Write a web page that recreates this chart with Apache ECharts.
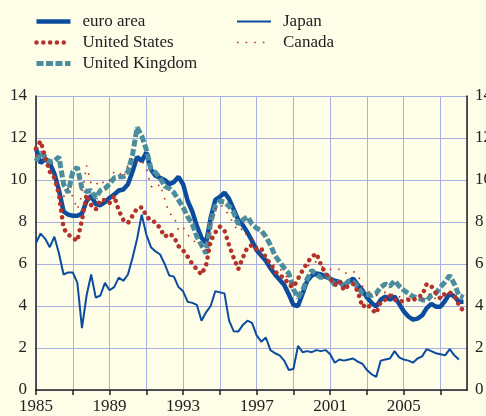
<!DOCTYPE html>
<html>
<head>
<meta charset="utf-8">
<script src="https://cdn.jsdelivr.net/npm/echarts@6/dist/echarts.min.js"></script>
<style>
  html, body { margin: 0; padding: 0; background: #fefde8; }
  #chart { width: 486px; height: 416px; }
</style>
</head>
<body>
<div id="chart"></div>
<script>
// quarterly time points, 1985.00 ... 2008.25
var quarters = [];
for (var i = 0; i <= 93; i++) quarters.push(1985 + i * 0.25);

var euroArea = [
  11.5, 10.8, 11.0, 10.8,   // 1985
  10.3, 9.5, 8.5, 8.35,     // 1986
  8.3, 8.3, 8.4, 9.0,       // 1987
  9.25, 8.85, 8.8, 8.95,    // 1988
  9.15, 9.3, 9.5, 9.55,     // 1989
  9.8, 10.4, 11.1, 10.9,    // 1990
  11.3, 10.5, 10.2, 10.1,   // 1991
  10.0, 9.8, 9.9, 10.15,    // 1992
  9.8, 9.0, 8.5, 7.8,       // 1993
  7.25, 7.0, 8.2, 9.05,     // 1994
  9.2, 9.4, 9.1, 8.6,       // 1995
  8.1, 7.85, 7.5, 7.1,      // 1996
  6.65, 6.4, 6.15, 5.8,     // 1997
  5.5, 5.25, 5.0, 4.55,     // 1998
  4.05, 4.0, 4.6, 5.2,      // 1999
  5.45, 5.55, 5.5, 5.4,     // 2000
  5.3, 5.2, 5.15, 4.95,     // 2001
  5.15, 5.3, 5.0, 4.75,     // 2002
  4.4, 4.15, 3.97, 4.3,     // 2003
  4.45, 4.3, 4.45, 4.1,     // 2004
  3.75, 3.5, 3.35, 3.4,     // 2005
  3.55, 3.9, 4.1, 3.97,     // 2006
  3.97, 4.25, 4.6, 4.45,    // 2007
  4.2, 4.2                  // 2008
];

var unitedStates = [
  11.5, 11.85, 11.1, 10.4,
  10.1, 9.3, 7.7, 7.4,
  7.25, 7.1, 8.1, 9.3,
  8.8, 8.6, 9.05, 9.05,
  8.9, 9.25, 8.55, 8.1,
  7.95, 8.3, 8.65, 8.7,
  8.3, 8.05, 8.0, 7.7,
  7.3, 7.45, 7.3, 6.85,
  6.65, 6.35, 6.0, 5.75,
  5.5, 5.95, 7.1, 7.5,
  7.78, 7.6, 6.9, 6.3,
  5.75, 6.3, 6.8, 6.9,
  6.7, 6.75, 6.3, 6.0,
  5.65, 5.45, 5.35, 5.0,
  4.9, 5.3, 5.7, 6.05,
  6.35, 6.5, 5.95, 5.55,
  5.3, 5.0, 5.2, 4.75,
  5.0, 5.05, 4.7, 3.95,
  4.1, 3.85, 3.65, 4.2,
  4.3, 4.5, 4.3, 4.2,
  4.25, 4.3, 4.25, 4.45,
  4.5, 5.05, 4.95, 4.6,
  4.35, 4.6, 4.65, 4.5,
  4.05, 3.75
];

var unitedKingdom = [
  10.9, 11.3, 11.1, 10.85,
  10.9, 11.1, 9.8, 9.4,
  10.4, 10.6, 9.6, 9.45,
  9.5, 9.15, 9.5, 9.6,
  9.8, 10.1, 10.15, 10.15,
  10.4, 11.2, 12.5, 12.1,
  11.45, 10.55, 10.35, 10.1,
  9.7, 9.6, 9.4, 9.05,
  8.7, 8.25, 7.9, 7.3,
  6.9, 6.5, 8.0, 8.75,
  9.0, 8.95, 8.75, 8.45,
  7.9, 8.1, 8.25, 7.9,
  7.7, 7.6, 7.3, 6.9,
  6.4, 6.1, 5.8, 5.55,
  4.8, 4.4, 4.75, 5.3,
  5.7, 5.5, 5.35, 5.5,
  5.3, 5.0, 5.15, 4.95,
  5.2, 5.15, 4.9, 4.6,
  4.55, 4.5, 4.6, 4.9,
  5.05, 4.95, 5.2, 4.95,
  4.75, 4.6, 4.45, 4.4,
  4.3, 4.25, 4.5, 4.6,
  4.9, 5.15, 5.45, 5.05,
  4.5, 4.4
];

var japan = [
  7.0, 7.45, 7.2, 6.8,
  7.3, 6.5, 5.5, 5.6,
  5.6, 5.1, 2.95, 4.5,
  5.5, 4.4, 4.5, 5.1,
  4.75, 4.9, 5.35, 5.2,
  5.5, 6.3, 7.2, 8.35,
  7.4, 6.8, 6.6, 6.45,
  6.0, 5.45, 5.4, 4.9,
  4.7, 4.2, 4.15, 4.05,
  3.3, 3.7, 4.0, 4.7,
  4.65, 4.6, 3.3, 2.8,
  2.78, 3.1, 3.3, 3.2,
  2.6, 2.3, 2.5, 1.9,
  1.75, 1.65, 1.4, 0.95,
  1.0, 2.1, 1.8, 1.85,
  1.8, 1.9, 1.85, 1.9,
  1.7, 1.3, 1.45, 1.4,
  1.45, 1.5, 1.35, 1.25,
  0.95, 0.75, 0.62, 1.4,
  1.45, 1.5, 1.85, 1.55,
  1.45, 1.4, 1.3, 1.5,
  1.6, 1.95, 1.85, 1.75,
  1.7, 1.65, 1.95, 1.65,
  1.45, null
];

var canada = [
  11.2, 11.0, 10.9, 10.5,
  10.2, 9.6, 9.2, 9.6,
  9.2, 8.6, 9.3, 10.7,
  9.8, 9.75, 10.0, 9.8,
  10.0, 10.4, 10.4, 10.1,
  10.7, 11.1, 10.8, 10.9,
  10.6, 9.7, 9.6, 9.8,
  9.1, 8.4, 8.3, 7.6,
  7.75, 7.4, 7.1, 7.05,
  6.85, 6.6, 8.2, 8.6,
  8.85, 8.65, 8.3, 7.9,
  7.55, 7.7, 7.3, 7.2,
  6.9, 6.4, 6.3, 6.1,
  5.9, 5.8, 5.5, 5.3,
  5.05, 5.3, 5.65, 5.85,
  6.1, 6.1, 5.9, 5.8,
  5.75, 5.7, 5.75, 5.55,
  5.6, 5.65, 5.5, 4.95,
  4.75, 4.6, 4.5, 4.6,
  4.65, 4.5, 4.6, 4.45,
  4.3, 4.4, 4.35, 4.2,
  4.3, 4.5, 4.6, 4.3,
  4.4, 4.5, 4.6, 4.4,
  4.3, 4.3
];

var yTicks = [0, 2, 4, 6, 8, 10, 12, 14];
var xLabelYears = [1985, 1989, 1993, 1997, 2001, 2005];

function pairs(arr) {
  return quarters.map(function (t, i) { return [t, arr[i]]; });
}

var darkBlue = '#0b4c9e';
var red = '#b3322b';
var teal = '#4b8d9f';
var gridColor = '#a9b0e0';
var font = '"Liberation Serif", "DejaVu Serif", serif';

// line looks, shared by the series and their legend entries
var looks = {
  'Japan':          { color: darkBlue, width: 2 },
  'euro area':      { color: darkBlue, width: 4.5 },
  'United Kingdom': { color: teal, width: 5, type: [7, 2.5] },
  'Canada':         { color: red, width: 1.6, type: [1.6, 7] },
  'United States':  { color: red, width: 4.5, type: [0.01, 6.8], cap: 'round' }
};

function legendItem(name) {
  return { name: name, lineStyle: looks[name], itemStyle: { opacity: 0 } };
}

function lineSeries(name, values) {
  return {
    name: name, type: 'line', data: pairs(values), symbol: 'none',
    lineStyle: looks[name], itemStyle: { color: looks[name].color }
  };
}

var chart = echarts.init(document.getElementById('chart'));

var yAxisBase = {
  type: 'value',
  min: yTicks[0],
  max: yTicks[yTicks.length - 1],
  interval: 2,
  axisLine: { show: true, lineStyle: { color: '#222', width: 1.5 } },
  axisTick: { show: false },
  axisLabel: { color: '#222', fontFamily: font, fontSize: 17, margin: 8 },
  splitLine: { show: false }
};

var legendBase = {
  top: 13, orient: 'vertical', padding: 0,
  itemWidth: 34, itemHeight: 14, itemGap: 4,
  itemStyle: { opacity: 0 },
  textStyle: { fontFamily: font, fontSize: 17, color: '#222', padding: [0, 0, 0, 7] }
};

chart.setOption({
  backgroundColor: '#fefde8',
  animation: false,
  legend: [
    Object.assign({}, legendBase, {
      left: 34, data: ['euro area', 'United States', 'United Kingdom'].map(legendItem)
    }),
    Object.assign({}, legendBase, {
      left: 236, data: ['Japan', 'Canada'].map(legendItem)
    })
  ],
  grid: { left: 36, right: 19, top: 96, bottom: 26, outerBoundsMode: 'none', containLabel: false },
  xAxis: {
    type: 'value',
    min: 1985,
    max: 2008.44,
    interval: 2,
    axisLine: { show: true, onZero: false, lineStyle: { color: '#222', width: 1.5 } },
    axisTick: { show: true, length: 5, lineStyle: { color: '#222', width: 1.5 } },
    axisLabel: {
      color: '#222', fontFamily: font, fontSize: 17, margin: 8,
      showMaxLabel: false,
      formatter: function (v) {
        return xLabelYears.indexOf(v) >= 0 ? String(v) : '';
      }
    },
    splitLine: { show: true, lineStyle: { color: gridColor, width: 1 } }
  },
  yAxis: [
    Object.assign({}, yAxisBase, {
      position: 'left',
      axisLabel: { color: '#222', fontFamily: font, fontSize: 17, margin: 9 },
      splitLine: { show: true, lineStyle: { color: gridColor, width: 1 } }
    }),
    Object.assign({}, yAxisBase, { position: 'right' })
  ],
  series: [
    lineSeries('Japan', japan),
    lineSeries('euro area', euroArea),
    lineSeries('United Kingdom', unitedKingdom),
    lineSeries('Canada', canada),
    lineSeries('United States', unitedStates)
  ]
});
</script>
</body>
</html>
